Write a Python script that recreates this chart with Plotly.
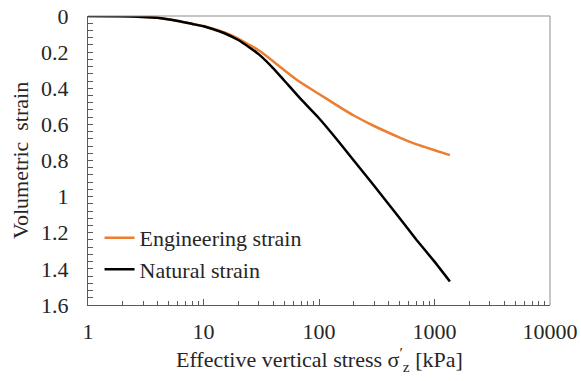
import plotly.graph_objects as go

# Effective vertical stress [kPa]
stress = [1, 2, 3, 4, 6, 8, 10, 12, 15, 20, 25, 30, 40, 50, 70, 100,
          150, 200, 300, 500, 700, 1000, 1360]
# Volumetric strain, engineering definition
eng_strain = [0, 0.002, 0.005, 0.010, 0.028, 0.043, 0.055, 0.070, 0.090,
              0.125, 0.160, 0.190, 0.250, 0.300, 0.370, 0.432, 0.503,
              0.551, 0.609, 0.673, 0.711, 0.743, 0.770]
# Volumetric strain, natural (logarithmic) definition
nat_strain = [0, 0.002, 0.005, 0.010, 0.028, 0.044, 0.057, 0.072, 0.094,
              0.133, 0.174, 0.211, 0.288, 0.357, 0.462, 0.566, 0.700,
              0.800, 0.940, 1.120, 1.240, 1.360, 1.470]

x_tickvals = [1, 10, 100, 1000, 10000]
x_ticktext = ["1", "10", "100", "1000", "10000"]
y_tickvals = [0, 0.2, 0.4, 0.6, 0.8, 1.0, 1.2, 1.4, 1.6]

FONT = "Liberation Serif, Times New Roman, serif"
FS = 22
TXT = "#262626"
AX = "#595959"

fig = go.Figure()
fig.add_trace(go.Scatter(
    x=stress, y=eng_strain, mode="lines", name="Engineering strain",
    line=dict(color="#ED7D31", width=2.5, shape="spline", smoothing=0.5),
))
fig.add_trace(go.Scatter(
    x=stress, y=nat_strain, mode="lines", name="Natural strain",
    line=dict(color="#000000", width=2.5, shape="spline", smoothing=0.5),
))

fig.update_layout(
    width=581, height=381,
    margin=dict(l=88, r=31, t=16, b=76, autoexpand=False),
    paper_bgcolor="white", plot_bgcolor="white",
    font=dict(family=FONT, size=FS, color=TXT),
    showlegend=True,
    legend=dict(
        x=0.025, y=0.305, xanchor="left", yanchor="top",
        bgcolor="rgba(0,0,0,0)", borderwidth=0,
        font=dict(family=FONT, size=FS, color=TXT),
        itemwidth=30, tracegroupgap=0,
    ),
)

fig.update_xaxes(
    type="log", range=[0, 4], automargin=False,
    tickvals=x_tickvals, ticktext=x_ticktext,
    ticks="inside", ticklen=6, tickcolor=AX, tickwidth=1,
    ticklabelstandoff=7,
    showline=True, linecolor=AX, linewidth=1,
    showgrid=False, zeroline=False,
    minor=dict(ticks="inside", ticklen=4, tickcolor=AX, dtick="D1",
               showgrid=False),
    tickfont=dict(family=FONT, size=FS, color=TXT),
)
fig.update_yaxes(
    range=[1.6, 0], automargin=False, tickvals=y_tickvals,
    ticks="inside", ticklen=5, tickcolor=AX, tickwidth=1,
    ticklabelstandoff=14,
    showline=True, linecolor=AX, linewidth=1,
    showgrid=False, zeroline=False,
    minor=dict(ticks="inside", ticklen=5, tickcolor=AX, dtick=0.04,
               showgrid=False),
    tickfont=dict(family=FONT, size=FS, color=TXT),
    title=dict(text="Volumetric  strain",
               font=dict(family=FONT, size=FS, color=TXT), standoff=6),
)

# x-axis title
fig.add_annotation(
    text="Effective vertical stress σ<sup>′</sup><sub>z</sub> [kPa]",
    xref="paper", yref="paper", x=0.5, y=-0.188,
    xanchor="center", yanchor="middle", showarrow=False,
    font=dict(family=FONT, size=FS, color=TXT),
)

# Light frame on the top and right sides of the plot area
fig.add_shape(type="line", xref="paper", yref="paper", x0=0, x1=1, y0=1, y1=1,
              line=dict(color="#8c8c8c", width=1))
fig.add_shape(type="line", xref="paper", yref="paper", x0=1, x1=1, y0=0, y1=1,
              line=dict(color="#8c8c8c", width=1))

fig.write_html("out.html")
